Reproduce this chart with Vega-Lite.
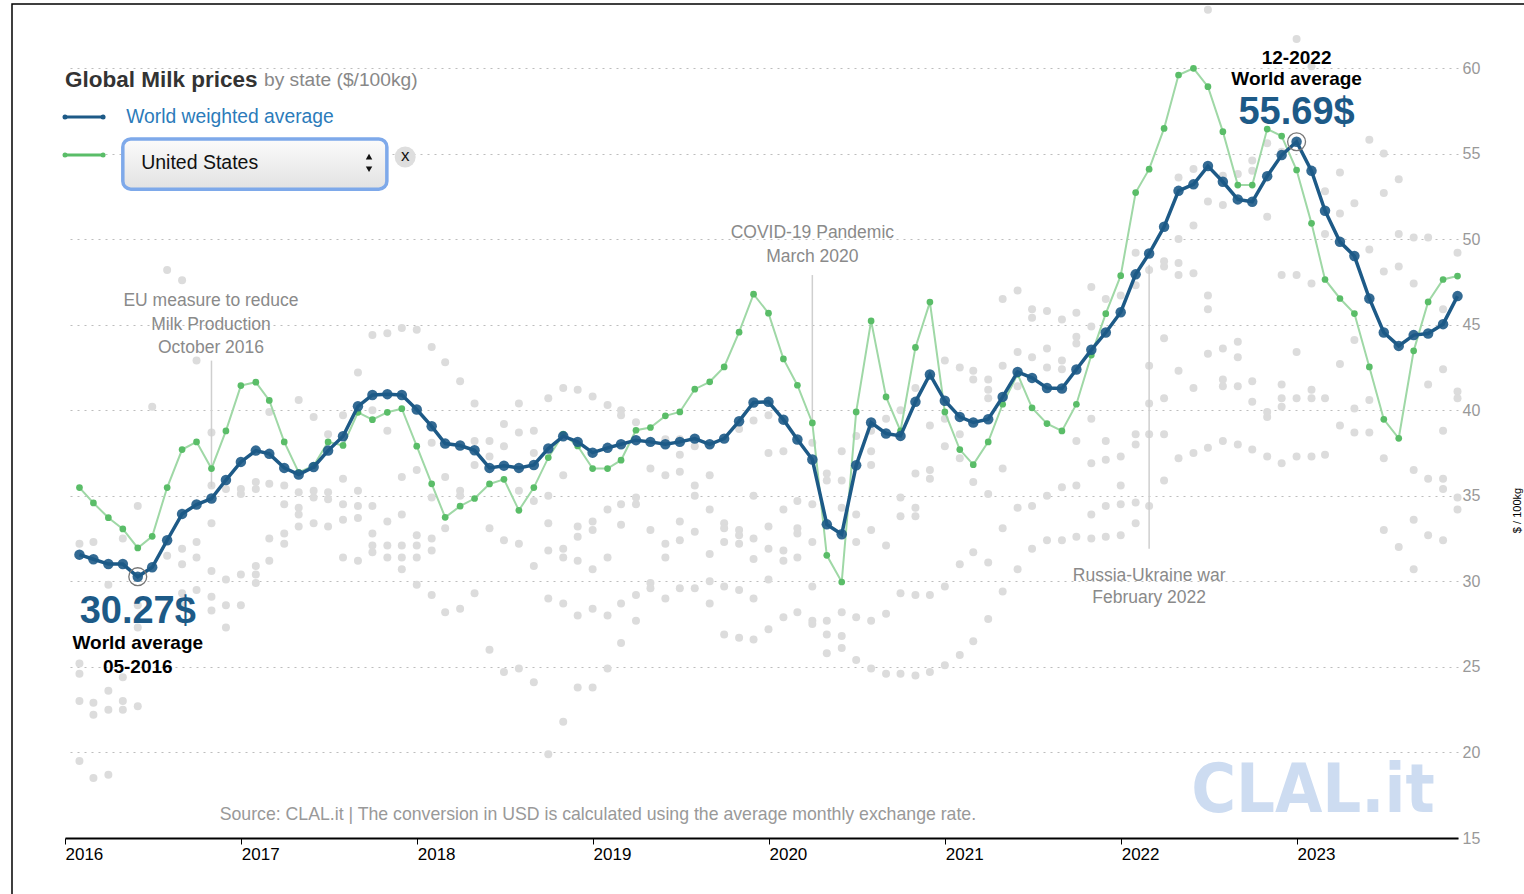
{
  "$schema": "https://vega.github.io/schema/vega-lite/v6.json",
  "width": 1393,
  "height": 770,
  "autosize": {"type": "none"},
  "padding": {"left": 65, "top": 68, "right": 66, "bottom": 56},
  "background": "white",
  "config": {"font": "Liberation Sans", "view": {"stroke": null}},
  "datasets": {
    "main": [
      {"date":"2016-01-31","series":"world","value":31.56},{"date":"2016-02-29","series":"world","value":31.29},{"date":"2016-03-31","series":"world","value":31.01},{"date":"2016-04-30","series":"world","value":31.01},{"date":"2016-05-31","series":"world","value":30.27},{"date":"2016-06-30","series":"world","value":30.82},{"date":"2016-07-31","series":"world","value":32.40},{"date":"2016-08-31","series":"world","value":33.94},{"date":"2016-09-30","series":"world","value":34.49},{"date":"2016-10-31","series":"world","value":34.84},{"date":"2016-11-30","series":"world","value":35.92},{"date":"2016-12-31","series":"world","value":36.98},
      {"date":"2017-01-31","series":"world","value":37.64},{"date":"2017-02-28","series":"world","value":37.45},{"date":"2017-03-31","series":"world","value":36.63},{"date":"2017-04-30","series":"world","value":36.24},{"date":"2017-05-31","series":"world","value":36.68},{"date":"2017-06-30","series":"world","value":37.64},{"date":"2017-07-31","series":"world","value":38.48},{"date":"2017-08-31","series":"world","value":40.23},{"date":"2017-09-30","series":"world","value":40.89},{"date":"2017-10-31","series":"world","value":40.94},{"date":"2017-11-30","series":"world","value":40.89},{"date":"2017-12-31","series":"world","value":40.04},
      {"date":"2018-01-31","series":"world","value":39.06},{"date":"2018-02-28","series":"world","value":38.05},{"date":"2018-03-31","series":"world","value":37.94},{"date":"2018-04-30","series":"world","value":37.66},{"date":"2018-05-31","series":"world","value":36.63},{"date":"2018-06-30","series":"world","value":36.76},{"date":"2018-07-31","series":"world","value":36.63},{"date":"2018-08-31","series":"world","value":36.80},{"date":"2018-09-30","series":"world","value":37.76},{"date":"2018-10-31","series":"world","value":38.48},{"date":"2018-11-30","series":"world","value":38.15},{"date":"2018-12-31","series":"world","value":37.52},
      {"date":"2019-01-31","series":"world","value":37.80},{"date":"2019-02-28","series":"world","value":38.01},{"date":"2019-03-31","series":"world","value":38.25},{"date":"2019-04-30","series":"world","value":38.15},{"date":"2019-05-31","series":"world","value":38.01},{"date":"2019-06-30","series":"world","value":38.15},{"date":"2019-07-31","series":"world","value":38.34},{"date":"2019-08-31","series":"world","value":38.01},{"date":"2019-09-30","series":"world","value":38.34},{"date":"2019-10-31","series":"world","value":39.36},{"date":"2019-11-30","series":"world","value":40.45},{"date":"2019-12-31","series":"world","value":40.49},
      {"date":"2020-01-31","series":"world","value":39.45},{"date":"2020-02-29","series":"world","value":38.29},{"date":"2020-03-31","series":"world","value":37.12},{"date":"2020-04-30","series":"world","value":33.33},{"date":"2020-05-31","series":"world","value":32.75},{"date":"2020-06-30","series":"world","value":36.78},{"date":"2020-07-31","series":"world","value":39.28},{"date":"2020-08-31","series":"world","value":38.64},{"date":"2020-09-30","series":"world","value":38.50},{"date":"2020-10-31","series":"world","value":40.49},{"date":"2020-11-30","series":"world","value":42.09},{"date":"2020-12-31","series":"world","value":40.55},
      {"date":"2021-01-31","series":"world","value":39.61},{"date":"2021-02-28","series":"world","value":39.28},{"date":"2021-03-31","series":"world","value":39.47},{"date":"2021-04-30","series":"world","value":40.78},{"date":"2021-05-31","series":"world","value":42.24},{"date":"2021-06-30","series":"world","value":41.89},{"date":"2021-07-31","series":"world","value":41.30},{"date":"2021-08-31","series":"world","value":41.27},{"date":"2021-09-30","series":"world","value":42.38},{"date":"2021-10-31","series":"world","value":43.53},{"date":"2021-11-30","series":"world","value":44.54},{"date":"2021-12-31","series":"world","value":45.73},
      {"date":"2022-01-31","series":"world","value":47.94},{"date":"2022-02-28","series":"world","value":49.16},{"date":"2022-03-31","series":"world","value":50.72},{"date":"2022-04-30","series":"world","value":52.82},{"date":"2022-05-31","series":"world","value":53.20},{"date":"2022-06-30","series":"world","value":54.27},{"date":"2022-07-31","series":"world","value":53.35},{"date":"2022-08-31","series":"world","value":52.32},{"date":"2022-09-30","series":"world","value":52.18},{"date":"2022-10-31","series":"world","value":53.68},{"date":"2022-11-30","series":"world","value":54.91},{"date":"2022-12-31","series":"world","value":55.69},
      {"date":"2023-01-31","series":"world","value":53.99},{"date":"2023-02-28","series":"world","value":51.66},{"date":"2023-03-31","series":"world","value":49.84},{"date":"2023-04-30","series":"world","value":49.01},{"date":"2023-05-31","series":"world","value":46.53},{"date":"2023-06-30","series":"world","value":44.54},{"date":"2023-07-31","series":"world","value":43.76},{"date":"2023-08-31","series":"world","value":44.39},{"date":"2023-09-30","series":"world","value":44.48},{"date":"2023-10-31","series":"world","value":45.03},{"date":"2023-11-30","series":"world","value":46.67},
      {"date":"2016-01-31","series":"us","value":35.48},{"date":"2016-02-29","series":"us","value":34.58},{"date":"2016-03-31","series":"us","value":33.72},{"date":"2016-04-30","series":"us","value":33.06},{"date":"2016-05-31","series":"us","value":31.95},{"date":"2016-06-30","series":"us","value":32.63},{"date":"2016-07-31","series":"us","value":35.48},{"date":"2016-08-31","series":"us","value":37.70},{"date":"2016-09-30","series":"us","value":38.15},{"date":"2016-10-31","series":"us","value":36.59},{"date":"2016-11-30","series":"us","value":38.79},{"date":"2016-12-31","series":"us","value":41.44},
      {"date":"2017-01-31","series":"us","value":41.64},{"date":"2017-02-28","series":"us","value":40.57},{"date":"2017-03-31","series":"us","value":38.15},{"date":"2017-04-30","series":"us","value":36.37},{"date":"2017-05-31","series":"us","value":36.76},{"date":"2017-06-30","series":"us","value":38.15},{"date":"2017-07-31","series":"us","value":37.94},{"date":"2017-08-31","series":"us","value":39.88},{"date":"2017-09-30","series":"us","value":39.45},{"date":"2017-10-31","series":"us","value":39.88},{"date":"2017-11-30","series":"us","value":40.09},{"date":"2017-12-31","series":"us","value":37.90},
      {"date":"2018-01-31","series":"us","value":35.70},{"date":"2018-02-28","series":"us","value":33.74},{"date":"2018-03-31","series":"us","value":34.39},{"date":"2018-04-30","series":"us","value":34.84},{"date":"2018-05-31","series":"us","value":35.69},{"date":"2018-06-30","series":"us","value":35.96},{"date":"2018-07-31","series":"us","value":34.15},{"date":"2018-08-31","series":"us","value":35.48},{"date":"2018-09-30","series":"us","value":37.23},{"date":"2018-10-31","series":"us","value":38.60},{"date":"2018-11-30","series":"us","value":37.91},{"date":"2018-12-31","series":"us","value":36.59},
      {"date":"2019-01-31","series":"us","value":36.59},{"date":"2019-02-28","series":"us","value":37.08},{"date":"2019-03-31","series":"us","value":38.83},{"date":"2019-04-30","series":"us","value":38.99},{"date":"2019-05-31","series":"us","value":39.67},{"date":"2019-06-30","series":"us","value":39.90},{"date":"2019-07-31","series":"us","value":41.23},{"date":"2019-08-31","series":"us","value":41.66},{"date":"2019-09-30","series":"us","value":42.53},{"date":"2019-10-31","series":"us","value":44.56},{"date":"2019-11-30","series":"us","value":46.78},{"date":"2019-12-31","series":"us","value":45.67},
      {"date":"2020-01-31","series":"us","value":43.00},{"date":"2020-02-29","series":"us","value":41.46},{"date":"2020-03-31","series":"us","value":39.26},{"date":"2020-04-30","series":"us","value":31.52},{"date":"2020-05-31","series":"us","value":29.96},{"date":"2020-06-30","series":"us","value":39.90},{"date":"2020-07-31","series":"us","value":45.22},{"date":"2020-08-31","series":"us","value":40.78},{"date":"2020-09-30","series":"us","value":38.79},{"date":"2020-10-31","series":"us","value":43.67},{"date":"2020-11-30","series":"us","value":46.32},{"date":"2020-12-31","series":"us","value":39.90},
      {"date":"2021-01-31","series":"us","value":37.70},{"date":"2021-02-28","series":"us","value":36.82},{"date":"2021-03-31","series":"us","value":38.15},{"date":"2021-04-30","series":"us","value":40.35},{"date":"2021-05-31","series":"us","value":42.11},{"date":"2021-06-30","series":"us","value":40.14},{"date":"2021-07-31","series":"us","value":39.22},{"date":"2021-08-31","series":"us","value":38.79},{"date":"2021-09-30","series":"us","value":40.35},{"date":"2021-10-31","series":"us","value":43.22},{"date":"2021-11-30","series":"us","value":45.64},{"date":"2021-12-31","series":"us","value":47.86},
      {"date":"2022-01-31","series":"us","value":52.72},{"date":"2022-02-28","series":"us","value":54.09},{"date":"2022-03-31","series":"us","value":56.47},{"date":"2022-04-30","series":"us","value":59.59},{"date":"2022-05-31","series":"us","value":59.98},{"date":"2022-06-30","series":"us","value":58.91},{"date":"2022-07-31","series":"us","value":56.28},{"date":"2022-08-31","series":"us","value":53.16},{"date":"2022-09-30","series":"us","value":53.16},{"date":"2022-10-31","series":"us","value":56.43},{"date":"2022-11-30","series":"us","value":56.02},{"date":"2022-12-31","series":"us","value":54.04},
      {"date":"2023-01-31","series":"us","value":50.92},{"date":"2023-02-28","series":"us","value":47.64},{"date":"2023-03-31","series":"us","value":46.53},{"date":"2023-04-30","series":"us","value":45.65},{"date":"2023-05-31","series":"us","value":42.53},{"date":"2023-06-30","series":"us","value":39.47},{"date":"2023-07-31","series":"us","value":38.36},{"date":"2023-08-31","series":"us","value":43.47},{"date":"2023-09-30","series":"us","value":46.33},{"date":"2023-10-31","series":"us","value":47.64},{"date":"2023-11-30","series":"us","value":47.84}
    ],
    "others": [
      {"date":"2016-01-31","value":32.2},{"date":"2016-01-31","value":25.2},{"date":"2016-01-31","value":24.6},{"date":"2016-01-31","value":23.0},{"date":"2016-01-31","value":19.5},
      {"date":"2016-02-29","value":32.3},{"date":"2016-02-29","value":22.9},{"date":"2016-02-29","value":22.2},{"date":"2016-02-29","value":18.5},
      {"date":"2016-03-31","value":29.8},{"date":"2016-03-31","value":23.6},{"date":"2016-03-31","value":22.5},{"date":"2016-03-31","value":18.7},
      {"date":"2016-04-30","value":32.5},{"date":"2016-04-30","value":24.4},{"date":"2016-04-30","value":23.0},{"date":"2016-04-30","value":22.5},
      {"date":"2016-05-31","value":34.4},{"date":"2016-05-31","value":28.6},{"date":"2016-05-31","value":27.3},{"date":"2016-05-31","value":22.7},
      {"date":"2016-06-30","value":40.2},
      {"date":"2016-07-31","value":48.2},{"date":"2016-07-31","value":31.5},
      {"date":"2016-08-31","value":47.6},{"date":"2016-08-31","value":31.9},{"date":"2016-08-31","value":31.0},{"date":"2016-08-31","value":29.3},{"date":"2016-08-31","value":28.6},
      {"date":"2016-09-30","value":42.9},{"date":"2016-09-30","value":32.3},{"date":"2016-09-30","value":31.4},{"date":"2016-09-30","value":29.5},
      {"date":"2016-10-31","value":38.7},{"date":"2016-10-31","value":35.6},{"date":"2016-10-31","value":33.4},{"date":"2016-10-31","value":30.6},{"date":"2016-10-31","value":29.1},{"date":"2016-10-31","value":28.3},
      {"date":"2016-11-30","value":35.4},{"date":"2016-11-30","value":30.1},{"date":"2016-11-30","value":28.6},{"date":"2016-11-30","value":27.3},
      {"date":"2016-12-31","value":35.4},{"date":"2016-12-31","value":35.1},{"date":"2016-12-31","value":30.4},{"date":"2016-12-31","value":28.6},
      {"date":"2017-01-31","value":35.8},{"date":"2017-01-31","value":35.4},{"date":"2017-01-31","value":30.9},{"date":"2017-01-31","value":30.4},{"date":"2017-01-31","value":29.9},
      {"date":"2017-02-28","value":39.9},{"date":"2017-02-28","value":35.7},{"date":"2017-02-28","value":32.5},{"date":"2017-02-28","value":31.2},
      {"date":"2017-03-31","value":35.6},{"date":"2017-03-31","value":34.5},{"date":"2017-03-31","value":32.8},{"date":"2017-03-31","value":32.2},
      {"date":"2017-04-30","value":40.6},{"date":"2017-04-30","value":35.2},{"date":"2017-04-30","value":34.3},{"date":"2017-04-30","value":33.9},{"date":"2017-04-30","value":33.2},
      {"date":"2017-05-31","value":39.6},{"date":"2017-05-31","value":35.3},{"date":"2017-05-31","value":34.9},{"date":"2017-05-31","value":33.4},
      {"date":"2017-06-30","value":38.6},{"date":"2017-06-30","value":35.2},{"date":"2017-06-30","value":34.8},{"date":"2017-06-30","value":33.2},
      {"date":"2017-07-31","value":39.7},{"date":"2017-07-31","value":36.0},{"date":"2017-07-31","value":34.5},{"date":"2017-07-31","value":33.6},{"date":"2017-07-31","value":31.4},
      {"date":"2017-08-31","value":42.2},{"date":"2017-08-31","value":35.3},{"date":"2017-08-31","value":34.4},{"date":"2017-08-31","value":33.7},{"date":"2017-08-31","value":31.2},
      {"date":"2017-09-30","value":44.4},{"date":"2017-09-30","value":40.0},{"date":"2017-09-30","value":34.4},{"date":"2017-09-30","value":32.8},{"date":"2017-09-30","value":32.1},{"date":"2017-09-30","value":31.7},
      {"date":"2017-10-31","value":44.5},{"date":"2017-10-31","value":38.8},{"date":"2017-10-31","value":33.5},{"date":"2017-10-31","value":32.1},{"date":"2017-10-31","value":31.4},
      {"date":"2017-11-30","value":44.8},{"date":"2017-11-30","value":36.1},{"date":"2017-11-30","value":33.9},{"date":"2017-11-30","value":32.1},{"date":"2017-11-30","value":31.4},{"date":"2017-11-30","value":30.7},
      {"date":"2017-12-31","value":44.7},{"date":"2017-12-31","value":36.5},{"date":"2017-12-31","value":32.7},{"date":"2017-12-31","value":32.1},{"date":"2017-12-31","value":31.4},{"date":"2017-12-31","value":29.8},
      {"date":"2018-01-31","value":43.7},{"date":"2018-01-31","value":38.1},{"date":"2018-01-31","value":34.9},{"date":"2018-01-31","value":32.5},{"date":"2018-01-31","value":31.8},{"date":"2018-01-31","value":29.2},
      {"date":"2018-02-28","value":42.8},{"date":"2018-02-28","value":36.1},{"date":"2018-02-28","value":33.1},{"date":"2018-02-28","value":28.2},
      {"date":"2018-03-31","value":41.7},{"date":"2018-03-31","value":35.3},{"date":"2018-03-31","value":35.0},{"date":"2018-03-31","value":28.4},
      {"date":"2018-04-30","value":40.4},{"date":"2018-04-30","value":38.2},{"date":"2018-04-30","value":36.8},{"date":"2018-04-30","value":29.3},
      {"date":"2018-05-31","value":38.2},{"date":"2018-05-31","value":37.3},{"date":"2018-05-31","value":33.1},{"date":"2018-05-31","value":26.0},
      {"date":"2018-06-30","value":39.2},{"date":"2018-06-30","value":37.9},{"date":"2018-06-30","value":32.4},{"date":"2018-06-30","value":24.7},
      {"date":"2018-07-31","value":40.4},{"date":"2018-07-31","value":38.7},{"date":"2018-07-31","value":35.3},{"date":"2018-07-31","value":32.2},{"date":"2018-07-31","value":24.9},
      {"date":"2018-08-31","value":38.8},{"date":"2018-08-31","value":37.5},{"date":"2018-08-31","value":34.7},{"date":"2018-08-31","value":30.9},{"date":"2018-08-31","value":24.1},
      {"date":"2018-09-30","value":40.7},{"date":"2018-09-30","value":35.0},{"date":"2018-09-30","value":33.4},{"date":"2018-09-30","value":31.8},{"date":"2018-09-30","value":29.0},{"date":"2018-09-30","value":19.9},
      {"date":"2018-10-31","value":41.3},{"date":"2018-10-31","value":36.2},{"date":"2018-10-31","value":31.9},{"date":"2018-10-31","value":31.4},{"date":"2018-10-31","value":28.7},{"date":"2018-10-31","value":21.8},
      {"date":"2018-11-30","value":41.2},{"date":"2018-11-30","value":33.2},{"date":"2018-11-30","value":32.6},{"date":"2018-11-30","value":31.2},{"date":"2018-11-30","value":28.0},{"date":"2018-11-30","value":23.8},
      {"date":"2018-12-31","value":40.8},{"date":"2018-12-31","value":33.5},{"date":"2018-12-31","value":33.0},{"date":"2018-12-31","value":30.7},{"date":"2018-12-31","value":28.4},{"date":"2018-12-31","value":23.8},
      {"date":"2019-01-31","value":40.3},{"date":"2019-01-31","value":34.2},{"date":"2019-01-31","value":31.4},{"date":"2019-01-31","value":28.0},{"date":"2019-01-31","value":24.9},
      {"date":"2019-02-28","value":40.0},{"date":"2019-02-28","value":39.7},{"date":"2019-02-28","value":34.5},{"date":"2019-02-28","value":33.3},{"date":"2019-02-28","value":28.7},{"date":"2019-02-28","value":26.4},
      {"date":"2019-03-31","value":39.3},{"date":"2019-03-31","value":34.9},{"date":"2019-03-31","value":34.5},{"date":"2019-03-31","value":29.2},{"date":"2019-03-31","value":27.7},
      {"date":"2019-04-30","value":36.6},{"date":"2019-04-30","value":33.0},{"date":"2019-04-30","value":29.9},{"date":"2019-04-30","value":29.6},
      {"date":"2019-05-31","value":38.3},{"date":"2019-05-31","value":36.2},{"date":"2019-05-31","value":32.2},{"date":"2019-05-31","value":31.4},{"date":"2019-05-31","value":29.0},
      {"date":"2019-06-30","value":38.3},{"date":"2019-06-30","value":37.4},{"date":"2019-06-30","value":36.4},{"date":"2019-06-30","value":33.5},{"date":"2019-06-30","value":32.4},{"date":"2019-06-30","value":29.6},
      {"date":"2019-07-31","value":37.9},{"date":"2019-07-31","value":35.6},{"date":"2019-07-31","value":35.0},{"date":"2019-07-31","value":32.9},{"date":"2019-07-31","value":29.6},
      {"date":"2019-08-31","value":36.2},{"date":"2019-08-31","value":34.2},{"date":"2019-08-31","value":31.6},{"date":"2019-08-31","value":30.0},{"date":"2019-08-31","value":28.7},
      {"date":"2019-09-30","value":33.4},{"date":"2019-09-30","value":33.1},{"date":"2019-09-30","value":32.3},{"date":"2019-09-30","value":29.7},{"date":"2019-09-30","value":26.9},
      {"date":"2019-10-31","value":38.9},{"date":"2019-10-31","value":33.0},{"date":"2019-10-31","value":32.7},{"date":"2019-10-31","value":32.2},{"date":"2019-10-31","value":29.5},{"date":"2019-10-31","value":26.7},
      {"date":"2019-11-30","value":39.4},{"date":"2019-11-30","value":35.0},{"date":"2019-11-30","value":32.5},{"date":"2019-11-30","value":31.3},{"date":"2019-11-30","value":29.0},{"date":"2019-11-30","value":26.6},
      {"date":"2019-12-31","value":39.7},{"date":"2019-12-31","value":37.5},{"date":"2019-12-31","value":33.2},{"date":"2019-12-31","value":31.9},{"date":"2019-12-31","value":30.1},{"date":"2019-12-31","value":27.2},
      {"date":"2020-01-31","value":37.6},{"date":"2020-01-31","value":34.2},{"date":"2020-01-31","value":31.8},{"date":"2020-01-31","value":31.2},{"date":"2020-01-31","value":27.9},
      {"date":"2020-02-29","value":34.7},{"date":"2020-02-29","value":33.1},{"date":"2020-02-29","value":32.8},{"date":"2020-02-29","value":31.4},{"date":"2020-02-29","value":28.2},
      {"date":"2020-03-31","value":38.1},{"date":"2020-03-31","value":34.5},{"date":"2020-03-31","value":32.3},{"date":"2020-03-31","value":29.7},{"date":"2020-03-31","value":27.7},{"date":"2020-03-31","value":27.5},
      {"date":"2020-04-30","value":36.3},{"date":"2020-04-30","value":35.9},{"date":"2020-04-30","value":27.7},{"date":"2020-04-30","value":26.9},{"date":"2020-04-30","value":25.8},
      {"date":"2020-05-31","value":37.6},{"date":"2020-05-31","value":35.9},{"date":"2020-05-31","value":34.3},{"date":"2020-05-31","value":28.2},{"date":"2020-05-31","value":26.8},{"date":"2020-05-31","value":26.1},
      {"date":"2020-06-30","value":38.5},{"date":"2020-06-30","value":33.9},{"date":"2020-06-30","value":32.3},{"date":"2020-06-30","value":27.9},{"date":"2020-06-30","value":25.4},
      {"date":"2020-07-31","value":38.8},{"date":"2020-07-31","value":37.6},{"date":"2020-07-31","value":36.8},{"date":"2020-07-31","value":33.0},{"date":"2020-07-31","value":27.7},{"date":"2020-07-31","value":24.9},
      {"date":"2020-08-31","value":39.5},{"date":"2020-08-31","value":32.1},{"date":"2020-08-31","value":28.1},{"date":"2020-08-31","value":24.6},
      {"date":"2020-09-30","value":40.0},{"date":"2020-09-30","value":34.9},{"date":"2020-09-30","value":33.8},{"date":"2020-09-30","value":29.3},{"date":"2020-09-30","value":24.6},
      {"date":"2020-10-31","value":41.3},{"date":"2020-10-31","value":36.3},{"date":"2020-10-31","value":34.3},{"date":"2020-10-31","value":33.8},{"date":"2020-10-31","value":29.2},{"date":"2020-10-31","value":24.5},
      {"date":"2020-11-30","value":39.1},{"date":"2020-11-30","value":36.5},{"date":"2020-11-30","value":36.0},{"date":"2020-11-30","value":29.2},{"date":"2020-11-30","value":24.7},
      {"date":"2020-12-31","value":42.9},{"date":"2020-12-31","value":39.5},{"date":"2020-12-31","value":37.9},{"date":"2020-12-31","value":29.7},{"date":"2020-12-31","value":25.1},
      {"date":"2021-01-31","value":42.5},{"date":"2021-01-31","value":38.6},{"date":"2021-01-31","value":37.2},{"date":"2021-01-31","value":31.0},{"date":"2021-01-31","value":25.7},
      {"date":"2021-02-28","value":42.3},{"date":"2021-02-28","value":41.8},{"date":"2021-02-28","value":35.8},{"date":"2021-02-28","value":31.7},{"date":"2021-02-28","value":26.5},
      {"date":"2021-03-31","value":41.8},{"date":"2021-03-31","value":41.2},{"date":"2021-03-31","value":40.7},{"date":"2021-03-31","value":35.1},{"date":"2021-03-31","value":31.1},{"date":"2021-03-31","value":27.8},
      {"date":"2021-04-30","value":46.5},{"date":"2021-04-30","value":42.6},{"date":"2021-04-30","value":36.6},{"date":"2021-04-30","value":33.1},{"date":"2021-04-30","value":29.4},
      {"date":"2021-05-31","value":47.0},{"date":"2021-05-31","value":43.4},{"date":"2021-05-31","value":41.4},{"date":"2021-05-31","value":34.3},{"date":"2021-05-31","value":30.7},
      {"date":"2021-06-30","value":45.9},{"date":"2021-06-30","value":45.4},{"date":"2021-06-30","value":43.1},{"date":"2021-06-30","value":34.4},{"date":"2021-06-30","value":31.9},
      {"date":"2021-07-31","value":45.8},{"date":"2021-07-31","value":43.6},{"date":"2021-07-31","value":42.5},{"date":"2021-07-31","value":35.0},{"date":"2021-07-31","value":32.4},
      {"date":"2021-08-31","value":45.3},{"date":"2021-08-31","value":42.9},{"date":"2021-08-31","value":42.4},{"date":"2021-08-31","value":35.5},{"date":"2021-08-31","value":32.4},
      {"date":"2021-09-30","value":45.7},{"date":"2021-09-30","value":44.3},{"date":"2021-09-30","value":43.9},{"date":"2021-09-30","value":38.2},{"date":"2021-09-30","value":35.6},{"date":"2021-09-30","value":32.6},
      {"date":"2021-10-31","value":47.2},{"date":"2021-10-31","value":44.9},{"date":"2021-10-31","value":39.5},{"date":"2021-10-31","value":36.9},{"date":"2021-10-31","value":33.9},{"date":"2021-10-31","value":32.5},
      {"date":"2021-11-30","value":46.5},{"date":"2021-11-30","value":38.2},{"date":"2021-11-30","value":37.1},{"date":"2021-11-30","value":34.4},{"date":"2021-11-30","value":32.6},
      {"date":"2021-12-31","value":46.7},{"date":"2021-12-31","value":37.3},{"date":"2021-12-31","value":35.6},{"date":"2021-12-31","value":34.5},{"date":"2021-12-31","value":32.7},
      {"date":"2022-01-31","value":49.2},{"date":"2022-01-31","value":47.3},{"date":"2022-01-31","value":38.6},{"date":"2022-01-31","value":38.0},{"date":"2022-01-31","value":34.6},{"date":"2022-01-31","value":33.4},
      {"date":"2022-02-28","value":48.2},{"date":"2022-02-28","value":42.6},{"date":"2022-02-28","value":40.4},{"date":"2022-02-28","value":38.6},{"date":"2022-02-28","value":34.4},
      {"date":"2022-03-31","value":48.7},{"date":"2022-03-31","value":48.4},{"date":"2022-03-31","value":44.2},{"date":"2022-03-31","value":40.7},{"date":"2022-03-31","value":38.6},{"date":"2022-03-31","value":35.9},
      {"date":"2022-04-30","value":53.6},{"date":"2022-04-30","value":50.0},{"date":"2022-04-30","value":48.6},{"date":"2022-04-30","value":47.9},{"date":"2022-04-30","value":42.3},{"date":"2022-04-30","value":37.2},
      {"date":"2022-05-31","value":54.1},{"date":"2022-05-31","value":50.8},{"date":"2022-05-31","value":48.0},{"date":"2022-05-31","value":41.3},{"date":"2022-05-31","value":37.5},
      {"date":"2022-06-30","value":63.4},{"date":"2022-06-30","value":52.2},{"date":"2022-06-30","value":46.7},{"date":"2022-06-30","value":45.9},{"date":"2022-06-30","value":43.3},{"date":"2022-06-30","value":37.8},
      {"date":"2022-07-31","value":53.7},{"date":"2022-07-31","value":52.0},{"date":"2022-07-31","value":43.6},{"date":"2022-07-31","value":41.8},{"date":"2022-07-31","value":41.4},{"date":"2022-07-31","value":38.2},
      {"date":"2022-08-31","value":53.8},{"date":"2022-08-31","value":44.0},{"date":"2022-08-31","value":43.1},{"date":"2022-08-31","value":41.4},{"date":"2022-08-31","value":38.0},
      {"date":"2022-09-30","value":54.6},{"date":"2022-09-30","value":54.0},{"date":"2022-09-30","value":41.7},{"date":"2022-09-30","value":40.5},{"date":"2022-09-30","value":37.7},
      {"date":"2022-10-31","value":55.6},{"date":"2022-10-31","value":51.3},{"date":"2022-10-31","value":39.9},{"date":"2022-10-31","value":39.6},{"date":"2022-10-31","value":37.3},
      {"date":"2022-11-30","value":55.1},{"date":"2022-11-30","value":47.9},{"date":"2022-11-30","value":41.5},{"date":"2022-11-30","value":40.7},{"date":"2022-11-30","value":40.2},{"date":"2022-11-30","value":36.9},
      {"date":"2022-12-31","value":61.7},{"date":"2022-12-31","value":47.9},{"date":"2022-12-31","value":43.4},{"date":"2022-12-31","value":40.7},{"date":"2022-12-31","value":37.3},
      {"date":"2023-01-31","value":60.1},{"date":"2023-01-31","value":47.4},{"date":"2023-01-31","value":41.2},{"date":"2023-01-31","value":40.7},{"date":"2023-01-31","value":37.3},
      {"date":"2023-02-28","value":52.8},{"date":"2023-02-28","value":50.3},{"date":"2023-02-28","value":40.7},{"date":"2023-02-28","value":37.4},
      {"date":"2023-03-31","value":53.9},{"date":"2023-03-31","value":51.5},{"date":"2023-03-31","value":42.7},{"date":"2023-03-31","value":39.1},
      {"date":"2023-04-30","value":52.1},{"date":"2023-04-30","value":44.1},{"date":"2023-04-30","value":40.1},{"date":"2023-04-30","value":38.7},
      {"date":"2023-05-31","value":55.8},{"date":"2023-05-31","value":49.4},{"date":"2023-05-31","value":40.6},{"date":"2023-05-31","value":38.7},
      {"date":"2023-06-30","value":55.0},{"date":"2023-06-30","value":52.7},{"date":"2023-06-30","value":48.1},{"date":"2023-06-30","value":37.2},{"date":"2023-06-30","value":33.0},
      {"date":"2023-07-31","value":53.5},{"date":"2023-07-31","value":50.3},{"date":"2023-07-31","value":48.4},{"date":"2023-07-31","value":32.0},
      {"date":"2023-08-31","value":50.1},{"date":"2023-08-31","value":47.4},{"date":"2023-08-31","value":36.5},{"date":"2023-08-31","value":33.6},{"date":"2023-08-31","value":30.7},
      {"date":"2023-09-30","value":50.1},{"date":"2023-09-30","value":41.5},{"date":"2023-09-30","value":36.0},{"date":"2023-09-30","value":32.7},
      {"date":"2023-10-31","value":45.9},{"date":"2023-10-31","value":42.4},{"date":"2023-10-31","value":38.8},{"date":"2023-10-31","value":36.0},{"date":"2023-10-31","value":35.4},{"date":"2023-10-31","value":32.4},
      {"date":"2023-11-30","value":49.2},{"date":"2023-11-30","value":41.1},{"date":"2023-11-30","value":40.7},{"date":"2023-11-30","value":34.9},{"date":"2023-11-30","value":34.2}
    ],
    "events": [
      {"date":"2016-10-31","value":42.9,"value2":35.5},
      {"date":"2020-03-31","value":47.9,"value2":39.3},
      {"date":"2022-02-28","value":48.5,"value2":31.9}
    ],
    "boxes": [
      {"kind":"frame","date":"2015-09-13","date2":"2024-07-01","value":63.74,"value2":10},
      {"kind":"select","date":"2016-04-30","date2":"2017-10-30","value":55.85,"value2":52.92}
    ],
    "keys": [
      {"series":"world","date":"2016-01-01","value":57.13},{"series":"world","date":"2016-03-20","value":57.13},
      {"series":"us","date":"2016-01-01","value":54.91},{"series":"us","date":"2016-03-20","value":54.91}
    ],
    "glyphs": [
      {"kind":"triangle-up","date":"2017-09-23","value":54.82},
      {"kind":"triangle-down","date":"2017-09-23","value":54.08},
      {"kind":"close","date":"2017-12-07","value":54.8}
    ],
    "notes": [
      {"kind":"title","label":"Global Milk prices","date":"2016-01-01","value":59.3},
      {"kind":"subtitle","label":"by state ($/100kg)","date":"2017-02-17","value":59.3},
      {"kind":"legend","label":"World weighted average","date":"2016-05-07","value":57.13},
      {"kind":"select","label":"United States","date":"2016-06-07","value":54.44},
      {"kind":"close","label":"x","date":"2017-12-07","value":54.88},
      {"kind":"event","label":"EU measure to reduce","date":"2016-10-30","value":46.37},
      {"kind":"event","label":"Milk Production","date":"2016-10-30","value":44.97},
      {"kind":"event","label":"October 2016","date":"2016-10-30","value":43.63},
      {"kind":"event","label":"COVID-19 Pandemic","date":"2020-03-31","value":50.35},
      {"kind":"event","label":"March 2020","date":"2020-03-31","value":48.95},
      {"kind":"event","label":"Russia-Ukraine war","date":"2022-02-28","value":30.29},
      {"kind":"event","label":"February 2022","date":"2022-02-28","value":29.0},
      {"kind":"big","label":"30.27$","date":"2016-05-31","value":28.19},
      {"kind":"caption","label":"World average","date":"2016-05-31","value":26.37},
      {"kind":"caption","label":"05-2016","date":"2016-05-31","value":24.97},
      {"kind":"caption","label":"12-2022","date":"2022-12-31","value":60.58},
      {"kind":"caption","label":"World average","date":"2022-12-31","value":59.36},
      {"kind":"big","label":"55.69$","date":"2022-12-31","value":57.37},
      {"kind":"source","label":"Source: CLAL.it | The conversion in USD is calculated using the average monthly exchange rate.","date":"2019-01-11","value":16.32},
      {"kind":"logo","label":"CLAL.it","date":"2023-02-03","value":17.66}
    ]
  },
  "encoding": {
    "x": {
      "field": "date", "type": "temporal",
      "scale": {"type": "utc", "domain": [{"year": 2016, "month": 1, "date": 1, "utc": true}, {"year": 2023, "month": 12, "date": 1, "utc": true}]},
      "axis": {"title": null, "format": "%Y", "tickCount": {"interval": "year", "step": 1}, "grid": false, "domainColor": "#000", "domainWidth": 2, "tickColor": "#000", "tickSize": 6, "labelAlign": "left", "labelFlush": false, "labelFontSize": 17, "labelColor": "#000", "labelPadding": 2}
    },
    "y": {
      "field": "value", "type": "quantitative",
      "scale": {"domain": [15, 60], "nice": false, "zero": false},
      "axis": {"orient": "right", "values": [15, 20, 25, 30, 35, 40, 45, 50, 55, 60], "grid": true, "gridDash": [2, 5], "gridColor": "#bdbdbd", "gridWidth": 1, "domain": false, "ticks": false, "tickSize": 0, "labelColor": "#999", "labelFontSize": 16, "labelPadding": 4, "title": "$ / 100kg", "titleFontSize": 11, "titleFontWeight": "normal", "titleColor": "#000", "titleAngle": 270, "titlePadding": 43, "titleY": 442}
    }
  },
  "layer": [
    {"data": {"name": "boxes"}, "transform": [{"filter": "datum.kind === 'frame'"}], "mark": {"type": "rect", "fill": "transparent", "stroke": "#000", "strokeWidth": 1.5}, "encoding": {"x2": {"field": "date2"}, "y2": {"field": "value2"}}},
    {"data": {"name": "others"}, "mark": {"type": "point", "filled": true, "color": "#dcdcdc", "opacity": 1, "size": 64}},
    {"data": {"name": "events"}, "mark": {"type": "rule", "color": "#cfcfcf", "strokeWidth": 1.5}, "encoding": {"y2": {"field": "value2"}}},
    {"data": {"name": "main"}, "transform": [{"filter": "datum.series === 'us'"}], "mark": {"type": "line", "color": "#9fd8a6", "strokeWidth": 2}},
    {"data": {"name": "main"}, "transform": [{"filter": "datum.series === 'us'"}], "mark": {"type": "point", "filled": true, "color": "#5abd68", "opacity": 1, "size": 45}},
    {"data": {"name": "main"}, "transform": [{"filter": "datum.series === 'world'"}], "mark": {"type": "line", "color": "#1d5a87", "strokeWidth": 3.5}},
    {"data": {"name": "main"}, "transform": [{"filter": "datum.series === 'world'"}], "mark": {"type": "point", "filled": true, "color": "#1d5a87", "opacity": 0.9, "size": 110}},
    {"data": {"name": "main"}, "transform": [{"filter": "datum.series === 'world' && (datum.value === 30.27 || datum.value === 55.69)"}], "mark": {"type": "point", "filled": false, "stroke": "#777", "strokeWidth": 1.3, "opacity": 1, "size": 320}},
    {"data": {"name": "keys"}, "transform": [{"filter": "datum.series === 'world'"}], "mark": {"type": "line", "color": "#1d5a87", "strokeWidth": 3, "point": {"filled": true, "color": "#1d5a87", "size": 25}}},
    {"data": {"name": "keys"}, "transform": [{"filter": "datum.series === 'us'"}], "mark": {"type": "line", "color": "#5abd68", "strokeWidth": 3, "point": {"filled": true, "color": "#5abd68", "size": 25}}},
    {"data": {"name": "boxes"}, "transform": [{"filter": "datum.kind === 'select'"}], "mark": {"type": "rect", "cornerRadius": 8, "stroke": "#7ea9ea", "strokeWidth": 3.5, "fill": {"gradient": "linear", "x1": 0, "y1": 0, "x2": 0, "y2": 1, "stops": [{"offset": 0, "color": "#fbfbfb"}, {"offset": 1, "color": "#e2e2e2"}]}}, "encoding": {"x2": {"field": "date2"}, "y2": {"field": "value2"}}},
    {"data": {"name": "glyphs"}, "transform": [{"filter": "datum.kind === 'triangle-up'"}], "mark": {"type": "point", "shape": "triangle-up", "filled": true, "color": "#111", "opacity": 1, "size": 42}},
    {"data": {"name": "glyphs"}, "transform": [{"filter": "datum.kind === 'triangle-down'"}], "mark": {"type": "point", "shape": "triangle-down", "filled": true, "color": "#111", "opacity": 1, "size": 42}},
    {"data": {"name": "glyphs"}, "transform": [{"filter": "datum.kind === 'close'"}], "mark": {"type": "point", "shape": "circle", "filled": true, "color": "#dedede", "opacity": 1, "size": 440}},
    {"data": {"name": "notes"}, "transform": [{"filter": "datum.kind === 'title'"}], "mark": {"type": "text", "align": "left", "baseline": "middle", "fontSize": 22.5, "fontWeight": "bold", "color": "#333"}, "encoding": {"text": {"field": "label", "type": "nominal"}}},
    {"data": {"name": "notes"}, "transform": [{"filter": "datum.kind === 'subtitle'"}], "mark": {"type": "text", "align": "left", "baseline": "middle", "fontSize": 19.2, "color": "#888"}, "encoding": {"text": {"field": "label", "type": "nominal"}}},
    {"data": {"name": "notes"}, "transform": [{"filter": "datum.kind === 'legend'"}], "mark": {"type": "text", "align": "left", "baseline": "middle", "fontSize": 19.3, "color": "#2b7bba"}, "encoding": {"text": {"field": "label", "type": "nominal"}}},
    {"data": {"name": "notes"}, "transform": [{"filter": "datum.kind === 'select'"}], "mark": {"type": "text", "align": "left", "baseline": "middle", "fontSize": 19.5, "color": "#111"}, "encoding": {"text": {"field": "label", "type": "nominal"}}},
    {"data": {"name": "notes"}, "transform": [{"filter": "datum.kind === 'close'"}], "mark": {"type": "text", "align": "center", "baseline": "middle", "fontSize": 17, "color": "#111"}, "encoding": {"text": {"field": "label", "type": "nominal"}}},
    {"data": {"name": "notes"}, "transform": [{"filter": "datum.kind === 'event'"}], "mark": {"type": "text", "align": "center", "baseline": "middle", "fontSize": 17.5, "color": "#8a8a8a"}, "encoding": {"text": {"field": "label", "type": "nominal"}}},
    {"data": {"name": "notes"}, "transform": [{"filter": "datum.kind === 'big'"}], "mark": {"type": "text", "align": "center", "baseline": "middle", "fontSize": 38, "fontWeight": "bold", "color": "#1d5a87"}, "encoding": {"text": {"field": "label", "type": "nominal"}}},
    {"data": {"name": "notes"}, "transform": [{"filter": "datum.kind === 'caption'"}], "mark": {"type": "text", "align": "center", "baseline": "middle", "fontSize": 19, "fontWeight": "bold", "color": "#000"}, "encoding": {"text": {"field": "label", "type": "nominal"}}},
    {"data": {"name": "notes"}, "transform": [{"filter": "datum.kind === 'source'"}], "mark": {"type": "text", "align": "center", "baseline": "middle", "fontSize": 17.7, "color": "#999"}, "encoding": {"text": {"field": "label", "type": "nominal"}}},
    {"data": {"name": "notes"}, "transform": [{"filter": "datum.kind === 'logo'"}], "mark": {"type": "text", "align": "center", "baseline": "middle", "fontSize": 68, "fontWeight": "bold", "font": "Liberation Sans Narrow, DejaVu Sans Condensed, Liberation Sans", "color": "#cddcf1"}, "encoding": {"text": {"field": "label", "type": "nominal"}}}
  ]
}
